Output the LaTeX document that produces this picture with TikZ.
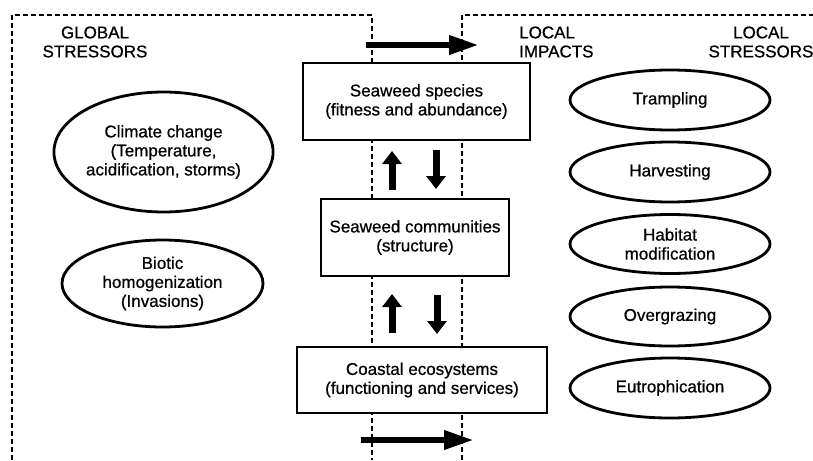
\documentclass[tikz,border=0pt]{standalone}
\usepackage{fontspec}
\setmainfont{Liberation Sans}[FakeBold=0.7]
\usetikzlibrary{shapes.geometric,arrows.meta}
\begin{document}
\begin{tikzpicture}[x=1pt,y=-1pt,
  txt/.style={font=\fontsize{17}{19}\selectfont,align=center,inner sep=0pt},
  region/.style={dash pattern=on 5pt off 3pt,line width=2.4pt},
  box/.style={txt,draw,line width=2.8pt,fill=white,rectangle},
  oval/.style={txt,draw,line width=2.8pt,fill=white,ellipse,inner sep=0pt},
  bigarrow/.style={line width=6.5pt,-{Triangle[length=30pt,width=18pt]}},
  updown/.style={line width=7pt,-{Triangle[length=13pt,width=19pt]}}
]
\useasboundingbox (0,0) rectangle (813,460);
\fill[white] (0,0) rectangle (813,460);
% dashed regions
\draw[region] (12,460) -- (12,15) -- (372,15) -- (372,460);
\draw[region] (462,460) -- (462,15) -- (813,15);
% headings
\node[txt] (glob) at (95,42) {GLOBAL\\STRESSORS};
\node[txt,align=left,anchor=west] (limp) at (519,42) {LOCAL\\IMPACTS};
\node[txt] (lstr) at (761,42) {LOCAL\\STRESSORS};
% central boxes
\node[box,minimum width=227pt,minimum height=77pt] (sp) at (416.5,101.5) {Seaweed species\\(fitness and abundance)};
\node[box,minimum width=188pt,minimum height=77pt] (com) at (415,237.5) {Seaweed communities\\(structure)};
\node[box,minimum width=250pt,minimum height=66pt] (eco) at (422,380) {Coastal ecosystems\\(functioning and services)};
% left ellipses
\node[oval,minimum width=203pt,minimum height=120pt] (clim) at (163.5,152) {Climate change\\(Temperature,\\acidification, storms)};
\node[oval,minimum width=201pt,minimum height=87pt] (biot) at (162.5,283.5) {Biotic\\homogenization\\(Invasions)};
% right ellipses
\node[oval,minimum width=200pt,minimum height=60pt] (tram) at (670,100) {Trampling};
\node[oval,minimum width=200pt,minimum height=60pt] (harv) at (670,172) {Harvesting};
\node[oval,minimum width=200pt,minimum height=59pt] (hab) at (670,244) {Habitat\\modification};
\node[oval,minimum width=200pt,minimum height=59pt] (over) at (670,316.5) {Overgrazing};
\node[oval,minimum width=200pt,minimum height=60pt] (eutr) at (670,388) {Eutrophication};
% horizontal arrows
\coordinate (ta1) at (366,45);
\coordinate (ta2) at (479,45);
\coordinate (ba1) at (361,440);
\coordinate (ba2) at (474,440);
\draw[bigarrow] (ta1) -- (ta2);
\draw[bigarrow] (ba1) -- (ba2);
% vertical arrows
\coordinate (u1a) at (392,190);
\coordinate (u1b) at (392,151);
\coordinate (d1a) at (436,150);
\coordinate (d1b) at (436,189);
\coordinate (u2a) at (392,333);
\coordinate (u2b) at (392,294);
\coordinate (d2a) at (437,295);
\coordinate (d2b) at (437,334);
\draw[updown] (u1a) -- (u1b);
\draw[updown] (d1a) -- (d1b);
\draw[updown] (u2a) -- (u2b);
\draw[updown] (d2a) -- (d2b);
\end{tikzpicture}
\end{document}
